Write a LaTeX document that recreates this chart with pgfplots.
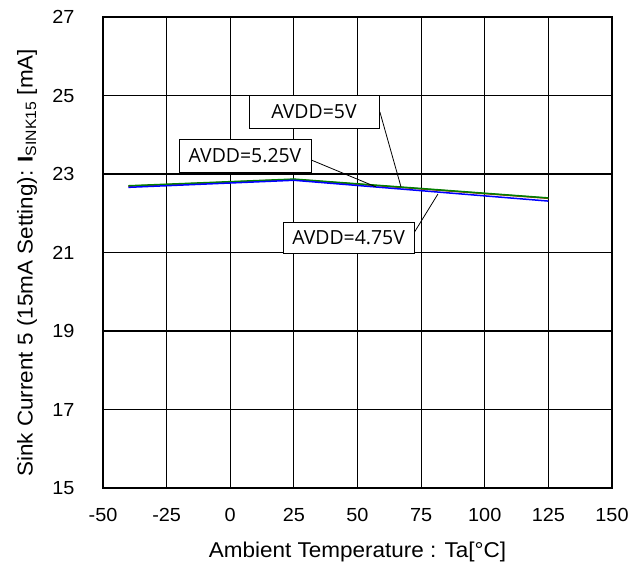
\documentclass[border=0pt]{standalone}
\usepackage{pgfplots}
\pgfplotsset{compat=1.18}
\usepackage{fontspec}
\setmainfont[FakeStretch=1.05]{Liberation Sans}
\newfontfamily\boxfont{Open Sans}
\usetikzlibrary{calc}
\definecolor{cblue}{RGB}{0,0,255}
\definecolor{cgreen}{RGB}{0,128,0}
\definecolor{cbrown}{RGB}{160,60,20}
\newcommand{\yt}[1]{#1\hspace*{25bp}}
\begin{document}
\begin{tikzpicture}
\begin{axis}[name=ax, scale only axis, width=509bp, height=471bp,
  xmin=-50, xmax=150, ymin=15, ymax=27,
  xtick={-50,-25,0,25,50,75,100,125,150},
  xticklabels={{-50},{-25},0,25,50,75,100,125,150},
  ytick={15,17,19,21,23,25,27},
  yticklabels={\yt{15},\yt{17},\yt{19},\yt{21},\yt{23},\yt{25},\yt{27}},
  grid=major, major grid style={black, line width=1.1bp},
  axis line style={black, line width=1.3bp},
  major tick length=0pt,
  every tick label/.append style={font=\fontsize{19}{20}\selectfont},
  xticklabel shift=17bp,
  xlabel={Ambient Temperature : Ta[°C]},
  ylabel={Sink Current 5 (15mA Setting): \textbf{I}\textsubscript{SINK15} [mA]},
  label style={font=\fontsize{21.5}{23}\selectfont},
  xlabel style={at={(axis description cs:0.5,-0.136)}, anchor=center},
  ylabel style={at={(axis description cs:-0.149,0.478)}, anchor=center},
  clip=false,
]
\addplot[cbrown, line width=1.5bp] coordinates {(-40,22.69) (25,22.86) (125,22.38)};
\addplot[cgreen, line width=1.5bp] coordinates {(-40,22.70) (25,22.87) (125,22.39)};
\addplot[cblue, line width=1.5bp] coordinates {(-40,22.66) (25,22.84) (125,22.31)};

\draw[black, line width=0.8bp] (axis cs:58.8,24.58) -- (axis cs:67.1,22.67);
\draw[black, line width=0.8bp] (axis cs:31.7,23.36) -- (axis cs:57.3,22.67);
\draw[black, line width=0.8bp] (axis cs:72.2,21.50) -- (axis cs:81.6,22.49);

\node[draw=black, line width=0.9bp, fill=white, minimum width=130bp, minimum height=33bp, inner sep=2bp, font=\boxfont\fontsize{19.5}{21}\selectfont] at (axis cs:32.9,24.59) {AVDD=5V};
\node[draw=black, line width=0.9bp, fill=white, minimum width=132bp, minimum height=33bp, inner sep=2bp, font=\boxfont\fontsize{19.5}{21}\selectfont] at (axis cs:5.8,23.47) {AVDD=5.25V};
\node[draw=black, line width=0.9bp, fill=white, minimum width=131bp, minimum height=31bp, inner sep=2bp, font=\boxfont\fontsize{19.5}{21}\selectfont] at (axis cs:46.5,21.38) {AVDD=4.75V};
\end{axis}
\pgfresetboundingbox
\path[use as bounding box] ($(ax.south west)+(-103bp,-81bp)$) rectangle ($(ax.north east)+(19bp,17bp)$);
\end{tikzpicture}
\end{document}
